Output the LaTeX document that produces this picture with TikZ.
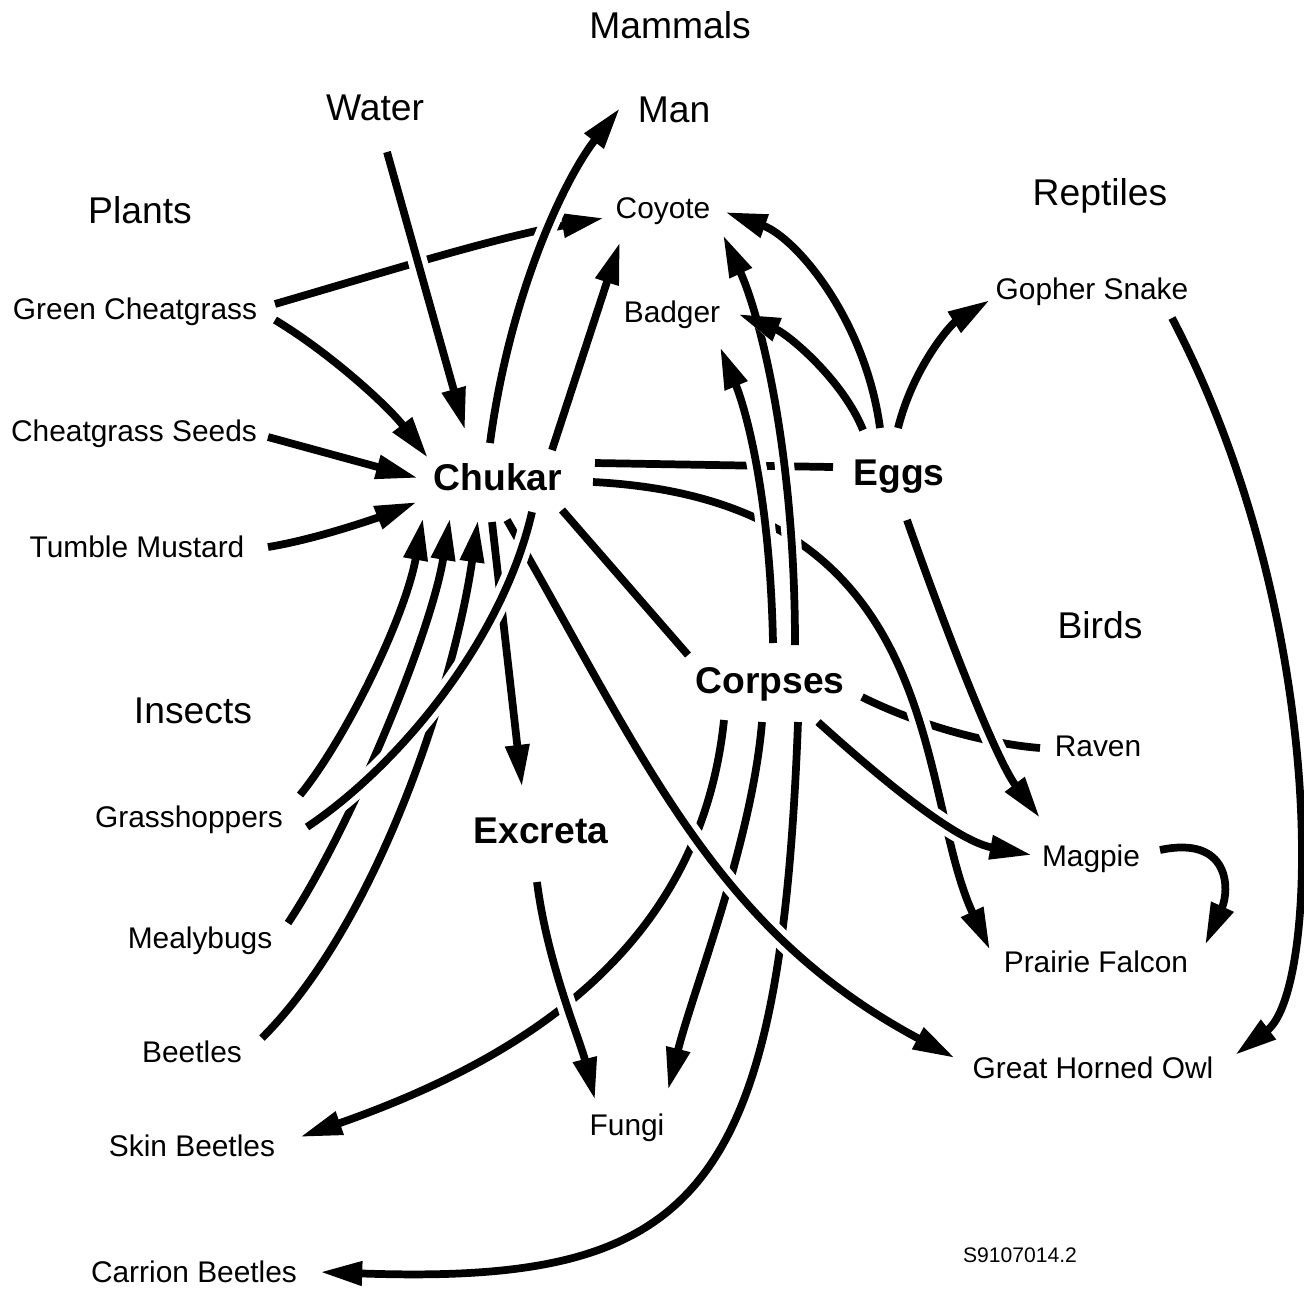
\documentclass[tikz,border=0pt]{standalone}
\usepackage{fontspec}
\setmainfont{Liberation Sans}
\usetikzlibrary{arrows.meta}

\begin{document}
\begin{tikzpicture}[x=0.1mm, y=-0.1mm,
  group/.style={font=\fontsize{10.6}{12}\selectfont, text height=7.6pt, text depth=0pt, inner sep=0pt},
  species/.style={font=\fontsize{8.5}{10}\selectfont, text height=6.1pt, text depth=0pt, inner sep=0pt},
  pool/.style={font=\fontsize{10.6}{12}\selectfont\bfseries, text height=7.6pt, text depth=0pt, inner sep=0pt},
  link/.style={line width=2.2pt, preaction={draw=white, line width=5.5pt}},
  feed/.style={link, -{Triangle[length=12pt, width=6.5pt]}}]

\useasboundingbox (0,0) rectangle (1304,1288);

\node[group] (mammals)  at (670,25)   {Mammals};
\node[group] (water)    at (375,107)  {Water};
\node[group] (man)      at (674,109)  {Man};
\node[group] (plants)   at (140,210)  {Plants};
\node[group] (reptiles) at (1100,192) {Reptiles};
\node[group] (insects)  at (193,710)  {Insects};
\node[group] (birds)    at (1100,625) {Birds};

\node[species] (coyote)  at (663,208)  {Coyote};
\node[species] (badger)  at (672,312)  {Badger};
\node[species] (gopher)  at (1092,289) {Gopher Snake};
\node[species] (greencg) at (135,309)  {Green Cheatgrass};
\node[species] (seeds)   at (134,431)  {Cheatgrass Seeds};
\node[species] (mustard) at (137,547)  {Tumble Mustard};
\node[species] (raven)   at (1098,746) {Raven};
\node[species] (grassh)  at (189,817)  {Grasshoppers};
\node[species] (magpie)  at (1091,856) {Magpie};
\node[species] (mealy)   at (200,938)  {Mealybugs};
\node[species] (falcon)  at (1096,962) {Prairie Falcon};
\node[species] (beetles) at (192,1052) {Beetles};
\node[species] (owl)     at (1093,1068) {Great Horned Owl};
\node[species] (skin)    at (192,1146) {Skin Beetles};
\node[species] (fungi)   at (627,1125) {Fungi};
\node[species] (carrion) at (194,1272) {Carrion Beetles};

\node[pool] (chukar)  at (498,477) {Chukar};
\node[pool] (eggs)    at (899,472) {Eggs};
\node[pool] (corpses) at (770,680) {Corpses};
\node[pool] (excreta) at (541,830) {Excreta};

\node[font=\fontsize{6}{7}\selectfont] (code) at (1020,1255) {S9107014.2};

%%%%%%%%%%%%%%%%%%%%%%%%%%%%%%%%%%%%%%%%

% lines that others cross over
\draw[link] ([shift={(92,17)}]corpses.center) .. controls +(50,25) and +(-60,-5) .. ([shift={(-58,2)}]raven.center);
\draw[link] ([shift={(97,-14)}]chukar.center) -- ([shift={(-66,-5)}]eggs.center);
\draw[feed] ([shift={(140,-5)}]greencg.center) .. controls +(120,-35) and +(-110,20) .. ([shift={(-59,10)}]coyote.center);
\draw[feed] ([shift={(95,5)}]chukar.center) .. controls +(357,18) and +(-75,-160) .. ([shift={(-106,-12)}]falcon.center);
\draw[feed] ([shift={(-46,40)}]corpses.center) .. controls +(-24,230) and +(220,-77) .. ([shift={(108,-9)}]skin.center);
\draw[feed] ([shift={(-8,42)}]corpses.center) .. controls +(-10,120) and +(25,-100) .. ([shift={(41,-35)}]fungi.center);
\draw[feed] ([shift={(28,42)}]corpses.center) .. controls +(-18,478) and +(375,13) .. ([shift={(126,0)}]carrion.center);

% into the chukar
\draw[feed] ([shift={(140,11)}]greencg.center) .. controls +(55,33) and +(-40,-52) .. ([shift={(-70,-19)}]chukar.center);
\draw[feed] ([shift={(134,6)}]seeds.center) -- ([shift={(-80,1)}]chukar.center);
\draw[feed] ([shift={(131,0)}]mustard.center) .. controls +(50,-8) and +(-35,14) .. ([shift={(-81,25)}]chukar.center);
\draw[feed] ([shift={(111,-22)}]grassh.center) .. controls +(45,-55) and +(-18,100) .. ([shift={(-75,41)}]chukar.center);
\draw[feed] ([shift={(88,-15)}]mealy.center) .. controls +(60,-90) and +(-20,120) .. ([shift={(-48,41)}]chukar.center);
\draw[feed] ([shift={(70,-14)}]beetles.center) .. controls +(118,-118) and +(-23,160) .. ([shift={(-20,43)}]chukar.center);
\draw[feed] ([shift={(12,45)}]water.center) -- ([shift={(-33,-47)}]chukar.center);

% out of the chukar
\draw[feed] ([shift={(-6,45)}]chukar.center) -- ([shift={(-19,-43)}]excreta.center);
\draw[feed] ([shift={(-8,-34)}]chukar.center) .. controls +(20,-150) and +(-55,70) .. ([shift={(-54,-1)}]man.center);
\draw[feed] ([shift={(54,-27)}]chukar.center) -- ([shift={(-43,34)}]coyote.center);
\draw[link] ([shift={(64,33)}]chukar.center) -- ([shift={(-82,-25)}]corpses.center);

% eggs
\draw[feed] ([shift={(-19,-44)}]eggs.center) .. controls +(-15,-110) and +(70,25) .. ([shift={(62,4)}]coyote.center);
\draw[feed] ([shift={(-1,-44)}]eggs.center) .. controls +(15,-60) and +(-40,25) .. ([shift={(-102,11)}]gopher.center);

% corpses up to the mammals
\draw[feed] ([shift={(25,-35)}]corpses.center) .. controls +(0,-200) and +(35,75) .. ([shift={(60,27)}]coyote.center);
\draw[feed] ([shift={(-36,-42)}]eggs.center) .. controls +(-20,-50) and +(50,20) .. ([shift={(66,2)}]badger.center);
\draw[feed] ([shift={(3,-37)}]corpses.center) .. controls +(-3,-150) and +(25,60) .. ([shift={(48,35)}]badger.center);

% birds
\draw[feed] ([shift={(8,48)}]eggs.center) .. controls +(35,100) and +(-45,-60) .. ([shift={(-51,-38)}]magpie.center);
\draw[feed] ([shift={(48,42)}]corpses.center) .. controls +(50,45) and +(-80,-15) .. ([shift={(-59,-1)}]magpie.center);
\draw[feed] ([shift={(69,-6)}]magpie.center) .. controls +(70,-15) and +(25,-55) .. ([shift={(109,-17)}]falcon.center);
\draw[feed] ([shift={(80,29)}]gopher.center) .. controls +(158,302) and +(85,-65) .. ([shift={(142,-13)}]owl.center);

% excreta and the long ones on top
\draw[feed] ([shift={(-4,52)}]excreta.center) .. controls +(10,80) and +(-15,-60) .. ([shift={(-32,-25)}]fungi.center);
\draw[feed] ([shift={(9,43)}]chukar.center) .. controls +(137,237) and +(-242,-129) .. ([shift={(-138,-10)}]owl.center);
\draw[link] ([shift={(34,35)}]chukar.center) .. controls +(-30,130) and +(90,-60) .. ([shift={(118,10)}]grassh.center);

\end{tikzpicture}
\end{document}
